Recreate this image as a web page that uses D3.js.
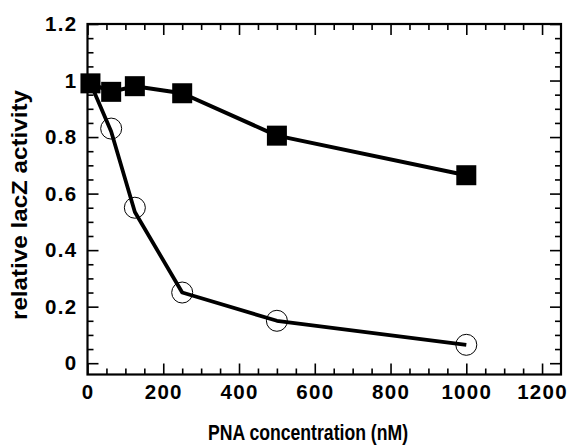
<!DOCTYPE html>
<html>
<head>
<meta charset="utf-8">
<script src="https://cdn.jsdelivr.net/npm/d3@7"></script>
<style>
  body { margin: 0; background: #fff; }
  text { font-family: "Liberation Sans", Arial, sans-serif; font-weight: bold; fill: #000; }
</style>
</head>
<body>
<svg width="569" height="445"></svg>
<script>
// data
var concSquares = [7.8, 62.5, 125, 250, 500, 1000];
var actSquares  = [0.99, 0.96, 0.98, 0.955, 0.805, 0.665];
var concCircles = [62.5, 125, 250, 500, 1000];
var actCircles  = [0.83, 0.55, 0.25, 0.15, 0.065];
// the fitted line for the open circles starts at the first filled point
var lineConc = [7.8, 62.5, 125, 250, 500, 1000];
var lineAct  = [0.99, 0.82, 0.535, 0.25, 0.15, 0.065];

var xTicks = [0, 200, 400, 600, 800, 1000, 1200];
var yTicks = [0, 0.2, 0.4, 0.6, 0.8, 1, 1.2];

var svg = d3.select('svg');

var pad = {l: 87.5, r: 561, t: 24, b: 374.5};

var x = d3.scaleLinear().domain([0, 1250]).range([pad.l, pad.r]);
var y = d3.scaleLinear().domain([-0.04, 1.2]).range([pad.b, pad.t]);

var xMinor = d3.range(50, 1250, 50).filter(function(d){ return d % 200 !== 0; });
var yMinor = d3.range(0.05, 1.2, 0.05).filter(function(d){ return Math.abs(d*5 - Math.round(d*5)) > 0.01; });

function tickStyle(g) {
    g.select('.domain').remove();
    g.selectAll('line').attr('stroke', '#000').attr('stroke-width', 1.6);
}

// bottom axis, ticks pointing inwards
svg.append('g')
    .attr('transform', 'translate(0,' + pad.b + ')')
    .call(d3.axisBottom(x).tickValues(xTicks).tickSize(-11).tickSizeOuter(0).tickPadding(10)
        .tickFormat(d3.format('d')))
    .call(tickStyle)
    .selectAll('text')
    .style('font-size', '20.5px')
    .style('letter-spacing', '1.3px');

svg.append('g')
    .attr('transform', 'translate(0,' + pad.b + ')')
    .call(d3.axisBottom(x).tickValues(xMinor).tickSize(-6).tickSizeOuter(0).tickFormat(''))
    .call(tickStyle);

// top axis
svg.append('g')
    .attr('transform', 'translate(0,' + pad.t + ')')
    .call(d3.axisTop(x).tickValues(xTicks).tickSize(-11).tickSizeOuter(0).tickFormat(''))
    .call(tickStyle);

svg.append('g')
    .attr('transform', 'translate(0,' + pad.t + ')')
    .call(d3.axisTop(x).tickValues(xMinor).tickSize(-6).tickSizeOuter(0).tickFormat(''))
    .call(tickStyle);

// left axis
svg.append('g')
    .attr('transform', 'translate(' + pad.l + ',0)')
    .call(d3.axisLeft(y).tickValues(yTicks).tickSize(-11).tickSizeOuter(0).tickPadding(10)
        .tickFormat(function(d){ return d === 0 || d === 1 ? d3.format('d')(d) : d3.format('.1f')(d); }))
    .call(tickStyle)
    .selectAll('text')
    .style('font-size', '20.5px')
    .style('letter-spacing', '1.3px');

svg.append('g')
    .attr('transform', 'translate(' + pad.l + ',0)')
    .call(d3.axisLeft(y).tickValues(yMinor).tickSize(-6).tickSizeOuter(0).tickFormat(''))
    .call(tickStyle);

// right axis
svg.append('g')
    .attr('transform', 'translate(' + pad.r + ',0)')
    .call(d3.axisRight(y).tickValues(yTicks).tickSize(-11).tickSizeOuter(0).tickFormat(''))
    .call(tickStyle);

svg.append('g')
    .attr('transform', 'translate(' + pad.r + ',0)')
    .call(d3.axisRight(y).tickValues(yMinor).tickSize(-6).tickSizeOuter(0).tickFormat(''))
    .call(tickStyle);

// frame
svg.append('rect')
    .attr('x', pad.l).attr('y', pad.t)
    .attr('width', pad.r - pad.l).attr('height', pad.b - pad.t)
    .attr('fill', 'none').attr('stroke', '#000').attr('stroke-width', 2.2);

var line = d3.line()
    .x(function(d){ return x(d[0]); })
    .y(function(d){ return y(d[1]); });

// open circle series
svg.append('path')
    .datum(d3.zip(lineConc, lineAct))
    .attr('d', line)
    .attr('fill', 'none').attr('stroke', '#000').attr('stroke-width', 3.8)
    .attr('stroke-linejoin', 'round');

svg.selectAll('.circ')
    .data(d3.zip(concCircles, actCircles))
    .enter().append('circle')
    .attr('class', 'circ')
    .attr('cx', function(d){ return x(d[0]); })
    .attr('cy', function(d){ return y(d[1]); })
    .attr('r', 10.5)
    .attr('fill', 'none').attr('stroke', '#000').attr('stroke-width', 1);

// filled square series
svg.append('path')
    .datum(d3.zip(concSquares, actSquares))
    .attr('d', line)
    .attr('fill', 'none').attr('stroke', '#000').attr('stroke-width', 4)
    .attr('stroke-linejoin', 'round');

var sq = 20;
svg.selectAll('.sq')
    .data(d3.zip(concSquares, actSquares))
    .enter().append('rect')
    .attr('class', 'sq')
    .attr('x', function(d){ return x(d[0]) - sq / 2; })
    .attr('y', function(d){ return y(d[1]) - sq / 2; })
    .attr('width', sq).attr('height', sq)
    .attr('fill', '#000');

// axis titles
svg.append('text')
    .attr('x', 208).attr('y', 440)
    .attr('textLength', 200).attr('lengthAdjust', 'spacingAndGlyphs')
    .style('font-size', '22px')
    .text('PNA concentration (nM)');

svg.append('text')
    .attr('transform', 'translate(27,205) rotate(-90)')
    .attr('text-anchor', 'middle')
    .attr('textLength', 230).attr('lengthAdjust', 'spacingAndGlyphs')
    .style('font-size', '22px')
    .text('relative lacZ activity');
</script>
</body>
</html>
